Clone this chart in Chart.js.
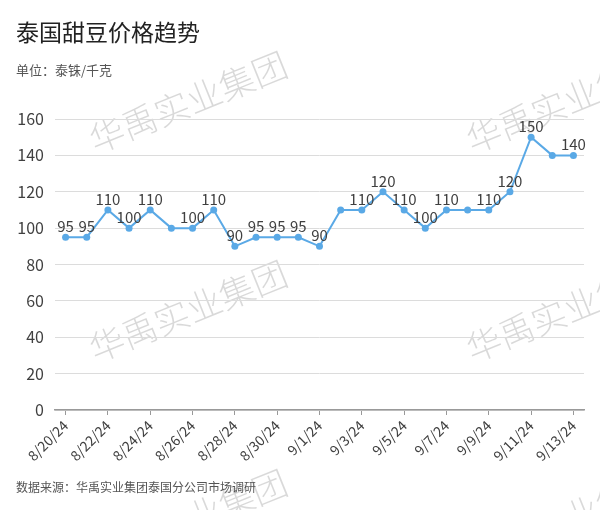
<!DOCTYPE html>
<html><head><meta charset="utf-8">
<script src="https://cdn.jsdelivr.net/npm/chart.js@4"></script>
<style>
html,body{margin:0;padding:0;background:#fff;}
#wrap{position:relative;width:600px;height:510px;overflow:hidden;background:#fff;}
canvas{position:absolute;left:0;top:0;}
</style></head><body>
<div id="wrap"><canvas id="c" width="600" height="510"></canvas></div>
<script>
const titleText = '泰国甜豆价格趋势';
const subtitleText = '单位：泰铢/千克';
const footerText = '数据来源：华禹实业集团泰国分公司市场调研';
const watermarkText = '华禹实业集团';
const categories = ['8/20/24','8/21/24','8/22/24','8/23/24','8/24/24','8/25/24','8/26/24','8/27/24','8/28/24','8/29/24','8/30/24','8/31/24','9/1/24','9/2/24','9/3/24','9/4/24','9/5/24','9/6/24','9/7/24','9/8/24','9/9/24','9/10/24','9/11/24','9/12/24','9/13/24'];
const prices = [95,95,110,100,110,100,100,110,90,95,95,95,90,110,110,120,110,100,110,110,110,120,150,140,140];
const labelShown = [1,1,1,1,1,0,1,1,1,1,1,1,1,0,1,1,1,1,1,0,1,1,1,0,1];
const yMin = 0, yMax = 160, yStep = 20;

const FONT = '"Noto Sans CJK SC","Noto Sans",sans-serif';
const LINE = '#5aa9e6';

const deco = {
  id: 'deco',
  beforeDraw(chart) {
    const ctx = chart.ctx;
    ctx.save();
    ctx.fillStyle = '#fff';
    ctx.fillRect(0, 0, chart.width, chart.height);
    const centers = [[188,102],[565,102],[188,311],[565,311],[188,520],[565,520]];
    ctx.font = '300 35px ' + FONT;
    ctx.fillStyle = 'rgba(0,0,0,0.15)';
    ctx.textAlign = 'center';
    ctx.textBaseline = 'middle';
    centers.forEach(([x, y]) => {
      ctx.save();
      ctx.translate(x, y);
      ctx.rotate(-22 * Math.PI / 180);
      ctx.fillText(watermarkText, 0, 0);
      ctx.restore();
    });
    ctx.restore();
  },
  afterDraw(chart) {
    const ctx = chart.ctx;
    ctx.save();
    ctx.textAlign = 'left';
    ctx.textBaseline = 'middle';
    ctx.fillStyle = '#222';
    ctx.font = 'normal 23px ' + FONT;
    ctx.fillText(titleText, 16, 32);
    ctx.fillStyle = '#555';
    ctx.font = '13px ' + FONT;
    ctx.fillText(subtitleText, 16, 70);
    ctx.font = '12px ' + FONT;
    ctx.fillText(footerText, 16, 487);
    ctx.restore();
  },
  afterDatasetsDraw(chart) {
    const ctx = chart.ctx;
    const meta = chart.getDatasetMeta(0);
    ctx.save();
    ctx.font = '15px ' + FONT;
    ctx.fillStyle = '#404040';
    ctx.textAlign = 'center';
    ctx.textBaseline = 'alphabetic';
    meta.data.forEach((pt, i) => {
      if (!labelShown[i]) return;
      ctx.fillText(String(prices[i]), pt.x, pt.y - 5);
    });
    ctx.restore();
  }
};

new Chart(document.getElementById('c'), {
  type: 'line',
  data: {
    labels: categories,
    datasets: [{
      data: prices,
      borderColor: LINE,
      backgroundColor: LINE,
      borderWidth: 2,
      pointRadius: 3.5,
      pointBorderWidth: 0,
      pointBackgroundColor: LINE,
      tension: 0
    }]
  },
  options: {
    responsive: false,
    animation: false,
    devicePixelRatio: 1,
    layout: { padding: { top: 119, right: 16, left: 0, bottom: 0 } },
    plugins: { legend: { display: false }, tooltip: { enabled: false }, title: { display: false } },
    scales: {
      x: {
        offset: true,
        afterFit(s) { s.height = 100; },
        grid: { drawOnChartArea: false, drawTicks: true, tickLength: 5, color: '#999', lineWidth: 1 },
        border: { display: true, color: '#999', width: 1.5 },
        ticks: {
          autoSkip: false, maxRotation: 45, minRotation: 45, padding: 2,
          color: '#404040', font: { size: 14, family: FONT },
          callback(v, i) { return i % 2 === 0 ? categories[i] : null; }
        }
      },
      y: {
        min: yMin, max: yMax,
        afterFit(s) { s.width = 55; },
        grid: { color: '#dcdcdc', lineWidth: 1, drawTicks: false },
        border: { display: false },
        ticks: { stepSize: yStep, padding: 11, color: '#404040', font: { size: 16, family: FONT } }
      }
    }
  },
  plugins: [deco]
});
</script>
</body></html>
